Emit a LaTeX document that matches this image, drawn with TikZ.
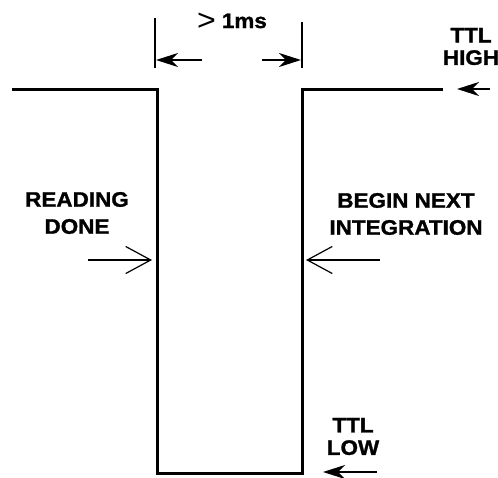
\documentclass[tikz,border=0pt]{standalone}
\usepackage{fontspec}
\setmainfont{Liberation Sans}[FakeStretch=1.07, BoldFeatures={FakeBold=1.2}]
\usetikzlibrary{arrows.meta}
\tikzset{
  sig/.style={line width=3pt, line join=miter},
  dimln/.style={line width=1.7pt},
  filledarr/.style={line width=2.2pt, -{Stealth[length=22pt,width=14pt,inset=7pt]}},
  openarr/.style={line width=1.2pt, -{Straight Barb[length=25pt,width=27pt,line width=1.2pt]}},
  lbl/.style={inner sep=0pt, align=center, font=\fontsize{21}{27}\selectfont\bfseries},
  lbls/.style={inner sep=0pt, align=center, font=\fontsize{21}{22.5}\selectfont\bfseries},
}
\begin{document}
\begin{tikzpicture}[x=1pt,y=-1pt]
\useasboundingbox (0,0) rectangle (498,477);
% signal
\coordinate (s0) at (12,89);
\coordinate (s1) at (157,89);
\coordinate (s2) at (157,473);
\coordinate (s3) at (302,473);
\coordinate (s4) at (302,89);
\coordinate (s5) at (443,89);
\draw[sig] (s0) -- (s1) -- (s2) -- (s3) -- (s4) -- (s5);
% dimension
\coordinate (d1t) at (155,18);
\coordinate (d1b) at (155,68);
\coordinate (d2t) at (302,22);
\coordinate (d2b) at (302,68);
\draw[dimln] (d1t) -- (d1b);
\draw[dimln] (d2t) -- (d2b);
\coordinate (a1s) at (202,60);
\coordinate (a1e) at (156,60);
\coordinate (a2s) at (262,60);
\coordinate (a2e) at (301,60);
\draw[filledarr] (a1s) -- (a1e);
\draw[filledarr] (a2s) -- (a2e);
\node[lbl, anchor=base] (dim) at (232,28) {\raisebox{-2.5pt}{\mdseries\fontsize{30}{27}\selectfont >}\hspace{6pt}1ms};
% TTL HIGH
\node[lbls] (ttlh) at (471,46.5) {TTL\\HIGH};
\coordinate (th1) at (490,89);
\coordinate (th2) at (457,89);
\draw[filledarr] (th1) -- (th2);
% READING DONE
\node[lbl] (rd) at (77,213) {READING\\DONE};
\coordinate (r1) at (88,260);
\coordinate (r2) at (152,260);
\draw[openarr] (r1) -- (r2);
% BEGIN NEXT INTEGRATION
\node[lbl] (bn) at (406,214) {BEGIN NEXT\\INTEGRATION};
\coordinate (b1) at (380,260);
\coordinate (b2) at (306,260);
\draw[openarr] (b1) -- (b2);
% TTL LOW
\node[lbls] (ttll) at (353,436.5) {TTL\\LOW};
\coordinate (tl1) at (377,472);
\coordinate (tl2) at (323,472);
\draw[filledarr] (tl1) -- (tl2);
\end{tikzpicture}
\end{document}
